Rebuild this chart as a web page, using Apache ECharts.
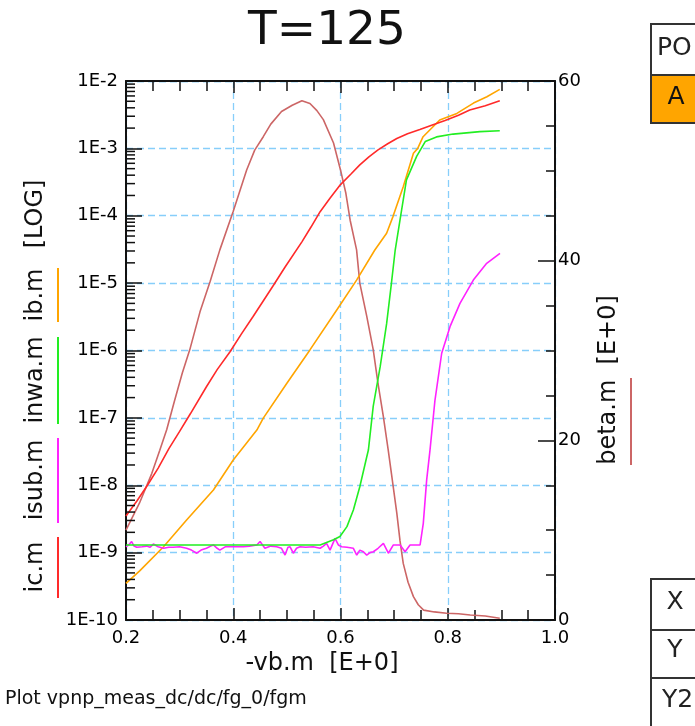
<!DOCTYPE html>
<html><head><meta charset="utf-8">
<script src="https://cdn.jsdelivr.net/npm/echarts@6/dist/echarts.min.js"></script>
<style>html,body{margin:0;padding:0;background:#fff}#c{width:695px;height:726px}</style>
</head><body><div id="c"></div>
<script>
// ---- data ----
const xTickLabels = ['0.2', '0.4', '0.6', '0.8', '1.0'];
const yTickLabels = ['1E-10', '1E-9', '1E-8', '1E-7', '1E-6', '1E-5', '1E-4', '1E-3', '1E-2'];
const y2TickLabels = ['0', '20', '40', '60'];

const icData = [[0.20,3.5e-9],[0.22,5.8e-9],[0.24,1.0e-8],[0.26,1.8e-8],[0.28,3.5e-8],[0.30,6.3e-8],[0.32,1.15e-7],[0.35,2.9e-7],[0.37,5.2e-7],[0.394,9.6e-7],[0.415,1.75e-6],[0.437,3.2e-6],[0.455,5.3e-6],[0.475,9.3e-6],[0.497,1.75e-5],[0.528,4.1e-5],[0.545,6.8e-5],[0.562,1.15e-4],[0.58,1.8e-4],[0.60,2.9e-4],[0.62,4.2e-4],[0.636,5.7e-4],[0.653,7.5e-4],[0.67,9.5e-4],[0.688,1.17e-3],[0.705,1.4e-3],[0.725,1.65e-3],[0.748,1.9e-3],[0.77,2.2e-3],[0.795,2.6e-3],[0.82,3.1e-3],[0.841,3.7e-3],[0.87,4.3e-3],[0.897,5.1e-3]];

const ibData = [[0.200,3.5e-10],[0.226,5.4e-10],[0.27,1.22e-9],[0.313,3.05e-9],[0.363,8.5e-9],[0.40,2.37e-8],[0.444,6.6e-8],[0.456,9.9e-8],[0.50,3.26e-7],[0.543,1.02e-6],[0.593,4.0e-6],[0.63,1.11e-5],[0.664,3.1e-5],[0.686,5.5e-5],[0.698,9.8e-5],[0.717,2.7e-4],[0.736,8.45e-4],[0.744,1.0e-3],[0.754,1.49e-3],[0.785,2.64e-3],[0.817,3.3e-3],[0.848,4.7e-3],[0.873,5.85e-3],[0.897,7.5e-3]];

const inwaData = [[0.20,1.3e-9],[0.30,1.3e-9],[0.40,1.3e-9],[0.50,1.3e-9],[0.562,1.3e-9],[0.587,1.55e-9],[0.599,1.74e-9],[0.612,2.43e-9],[0.624,4.3e-9],[0.636,9.5e-9],[0.649,2.65e-8],[0.652,3.33e-8],[0.661,1.48e-7],[0.674,5.75e-7],[0.686,2.5e-6],[0.695,1.0e-5],[0.702,3.1e-5],[0.711,8.7e-5],[0.723,3.4e-4],[0.742,7.6e-4],[0.758,1.26e-3],[0.779,1.48e-3],[0.81,1.63e-3],[0.86,1.77e-3],[0.897,1.83e-3]];

const isubData = [[0.200,1.22e-9],[0.205,1.3e-9],[0.2105,1.46e-9],[0.215,1.25e-9],[0.22,1.2e-9],[0.23,1.22e-9],[0.2385,1.25e-9],[0.245,1.2e-9],[0.251,1.34e-9],[0.26,1.22e-9],[0.27,1.16e-9],[0.28,1.2e-9],[0.288,1.2e-9],[0.30,1.22e-9],[0.313,1.16e-9],[0.322,1.09e-9],[0.332,9.8e-10],[0.34,1.09e-9],[0.35,1.16e-9],[0.358,1.25e-9],[0.363,1.3e-9],[0.37,1.16e-9],[0.375,1.09e-9],[0.385,1.22e-9],[0.394,1.22e-9],[0.405,1.22e-9],[0.419,1.22e-9],[0.43,1.25e-9],[0.444,1.3e-9],[0.45,1.46e-9],[0.459,1.16e-9],[0.47,1.25e-9],[0.481,1.22e-9],[0.49,1.16e-9],[0.4966,9.2e-10],[0.502,1.2e-9],[0.506,1.22e-9],[0.512,9.8e-10],[0.518,1.16e-9],[0.5245,1.22e-9],[0.535,1.2e-9],[0.549,1.22e-9],[0.562,1.16e-9],[0.568,1.25e-9],[0.574,1.37e-9],[0.5805,1.09e-9],[0.5898,1.63e-9],[0.596,1.3e-9],[0.6023,1.22e-9],[0.612,1.2e-9],[0.624,1.16e-9],[0.6303,9.2e-10],[0.636,1.09e-9],[0.6427,1.03e-9],[0.6489,9.2e-10],[0.655,1.0e-9],[0.6613,1.03e-9],[0.67,1.16e-9],[0.68,1.37e-9],[0.6893,9.8e-10],[0.6986,1.3e-9],[0.705,1.3e-9],[0.7111,1.3e-9],[0.7204,1.03e-9],[0.7297,1.3e-9],[0.74,1.3e-9],[0.7484,1.3e-9],[0.7544,2.72e-9],[0.7607,1.2e-8],[0.7669,3.33e-8],[0.7762,1.84e-7],[0.7887,9.1e-7],[0.8042,2.26e-6],[0.8228,5.0e-6],[0.8477,1.11e-5],[0.8726,1.97e-5],[0.8974,2.77e-5]];

const betaData = [[0.200,10.0],[0.225,13.0],[0.248,16.3],[0.263,18.9],[0.276,21.2],[0.29,24.3],[0.305,27.5],[0.319,30.1],[0.338,34.3],[0.357,37.7],[0.375,41.2],[0.40,45.5],[0.425,50.1],[0.44,52.3],[0.456,53.8],[0.47,55.2],[0.49,56.6],[0.51,57.3],[0.528,57.8],[0.543,57.5],[0.556,56.7],[0.568,55.7],[0.587,53.1],[0.60,50.1],[0.61,47.5],[0.618,44.5],[0.63,41.2],[0.636,37.5],[0.649,33.8],[0.661,30.1],[0.67,26.3],[0.68,22.6],[0.689,18.9],[0.695,16.3],[0.705,11.9],[0.711,8.8],[0.717,6.3],[0.726,4.2],[0.736,2.6],[0.745,1.7],[0.755,1.1],[0.775,0.9],[0.798,0.75],[0.82,0.7],[0.842,0.56],[0.87,0.45],[0.897,0.19]];

// ---- styling ----
const FONT = 'DejaVu Sans';
const C_IC = '#ff2a2a', C_IB = '#ffa500', C_INWA = '#22ee22', C_ISUB = '#ff22ff', C_BETA = '#cc6666';
const GRID_C = '#87cefa';

// log-axis minor tick positions (2..9 of each decade)
const minorLog = [];
for (let e = -10; e < -2; e++) for (let m = 2; m <= 9; m++) minorLog.push([0.2, m * Math.pow(10, e)]);

const chart = echarts.init(document.getElementById('c'), null, {renderer: 'canvas'});

const axisText = {fontFamily: FONT, fontSize: 18, color: '#000'};
const dashed = {show: true, lineStyle: {color: GRID_C, width: 1.3, type: [7, 4]}};

function lineSeries(name, data, color, yIdx) {
  return {name, type: 'line', data, xAxisIndex: 0, yAxisIndex: yIdx, showSymbol: false, symbol: 'none',
    lineStyle: {color, width: 1.6}, itemStyle: {color}, animation: false, z: 3};
}

const option = {
  animation: false,
  grid: {left: 126, right: 140, top: 81, bottom: 106, containLabel: false},
  xAxis: [
    {type: 'value', min: 0.2, max: 1.0, interval: 0.2, position: 'bottom',
      axisLine: {show: true, lineStyle: {color: '#111', width: 2}},
      axisTick: {show: true, inside: true, length: 12, lineStyle: {color: '#111', width: 1.5}},
      minorTick: {show: true, splitNumber: 4, length: 10, lineStyle: {color: '#111', width: 1.5}},
      axisLabel: Object.assign({margin: 9, formatter: v => xTickLabels[Math.round((v - 0.2) / 0.2)] || ''}, axisText),
      splitLine: dashed},
    {type: 'value', min: 0.2, max: 1.0, interval: 0.2, position: 'top',
      axisLine: {show: true, lineStyle: {color: '#111', width: 2}},
      axisTick: {show: true, inside: true, length: 12, lineStyle: {color: '#111', width: 1.5}},
      minorTick: {show: true, splitNumber: 4, length: 10, lineStyle: {color: '#111', width: 1.5}},
      axisLabel: {show: false}, splitLine: {show: false}}
  ],
  yAxis: [
    {type: 'log', logBase: 10, min: 1e-10, max: 1e-2, splitNumber: 8, position: 'left',
      axisLine: {show: true, lineStyle: {color: '#111', width: 2}},
      axisTick: {show: true, inside: true, length: 16, lineStyle: {color: '#111', width: 1.5}},
      axisLabel: Object.assign({margin: 8, formatter: v => yTickLabels[Math.round(Math.log10(v)) + 10] || ''}, axisText),
      splitLine: dashed},
    {type: 'value', min: 0, max: 60, interval: 20, position: 'right',
      axisLine: {show: true, lineStyle: {color: '#111', width: 2}},
      axisTick: {show: true, inside: true, length: 17, lineStyle: {color: '#111', width: 1.5}},
      minorTick: {show: true, splitNumber: 4, length: 9, lineStyle: {color: '#111', width: 1.5}},
      axisLabel: Object.assign({margin: 3, formatter: v => y2TickLabels[Math.round(v / 20)] || ''}, axisText),
      splitLine: {show: false}}
  ],
  graphic: [
    {type: 'text', style: {text: 'T=125', x: 327, y: 32, textAlign: 'center', textVerticalAlign: 'middle', font: '47px "DejaVu Sans"', fill: '#111'}},
    // left legend (rotated)
    {type: 'text', rotation: Math.PI / 2, x: 36, y: 567, style: {text: 'ic.m', textAlign: 'center', textVerticalAlign: 'middle', font: '24px "DejaVu Sans"', fill: '#111'}},
    {type: 'text', rotation: Math.PI / 2, x: 36, y: 480, style: {text: 'isub.m', textAlign: 'center', textVerticalAlign: 'middle', font: '24px "DejaVu Sans"', fill: '#111'}},
    {type: 'text', rotation: Math.PI / 2, x: 36, y: 380, style: {text: 'inwa.m', textAlign: 'center', textVerticalAlign: 'middle', font: '24px "DejaVu Sans"', fill: '#111'}},
    {type: 'text', rotation: Math.PI / 2, x: 36, y: 295, style: {text: 'ib.m', textAlign: 'center', textVerticalAlign: 'middle', font: '24px "DejaVu Sans"', fill: '#111'}},
    {type: 'text', rotation: Math.PI / 2, x: 36, y: 214, style: {text: '[LOG]', textAlign: 'center', textVerticalAlign: 'middle', font: '24px "DejaVu Sans"', fill: '#111'}},
    {type: 'line', shape: {x1: 58, y1: 537, x2: 58, y2: 598}, style: {stroke: C_IC, lineWidth: 2}},
    {type: 'line', shape: {x1: 58, y1: 438, x2: 58, y2: 523}, style: {stroke: C_ISUB, lineWidth: 2}},
    {type: 'line', shape: {x1: 58, y1: 337, x2: 58, y2: 424}, style: {stroke: C_INWA, lineWidth: 2}},
    {type: 'line', shape: {x1: 58, y1: 268, x2: 58, y2: 322}, style: {stroke: C_IB, lineWidth: 2}},
    // right legend
    {type: 'text', rotation: Math.PI / 2, x: 609, y: 380, style: {text: 'beta.m  [E+0]', textAlign: 'center', textVerticalAlign: 'middle', font: '24px "DejaVu Sans"', fill: '#111'}},
    {type: 'line', shape: {x1: 631, y1: 378, x2: 631, y2: 465}, style: {stroke: C_BETA, lineWidth: 2}},
    // x axis name & footer
    {type: 'text', style: {text: '-vb.m  [E+0]', x: 322, y: 664, textAlign: 'center', textVerticalAlign: 'middle', font: '24px "DejaVu Sans"', fill: '#111'}},
    {type: 'text', style: {text: 'Plot vpnp_meas_dc/dc/fg_0/fgm', x: 5, y: 699, textAlign: 'left', textVerticalAlign: 'middle', font: '19px "DejaVu Sans"', fill: '#111'}},
    // right-side table fragments
    {type: 'rect', shape: {x: 651, y: 24, width: 60, height: 51}, style: {fill: '#fff', stroke: '#333', lineWidth: 2}},
    {type: 'rect', shape: {x: 651, y: 75, width: 60, height: 48}, style: {fill: '#ffa500', stroke: '#333', lineWidth: 2}},
    {type: 'text', style: {text: 'PO', x: 657, y: 48, textAlign: 'left', textVerticalAlign: 'middle', font: '25px "DejaVu Sans"', fill: '#222'}},
    {type: 'text', style: {text: 'A', x: 676, y: 97, textAlign: 'center', textVerticalAlign: 'middle', font: '25px "DejaVu Sans"', fill: '#111'}},
    {type: 'rect', shape: {x: 651, y: 579, width: 60, height: 51}, style: {fill: '#fff', stroke: '#333', lineWidth: 2}},
    {type: 'rect', shape: {x: 651, y: 630, width: 60, height: 48}, style: {fill: '#fff', stroke: '#333', lineWidth: 2}},
    {type: 'rect', shape: {x: 651, y: 678, width: 60, height: 60}, style: {fill: '#fff', stroke: '#333', lineWidth: 2}},
    {type: 'text', style: {text: 'X', x: 675, y: 602, textAlign: 'center', textVerticalAlign: 'middle', font: '25px "DejaVu Sans"', fill: '#222'}},
    {type: 'text', style: {text: 'Y', x: 675, y: 650, textAlign: 'center', textVerticalAlign: 'middle', font: '25px "DejaVu Sans"', fill: '#222'}},
    {type: 'text', style: {text: 'Y2', x: 662, y: 700, textAlign: 'left', textVerticalAlign: 'middle', font: '25px "DejaVu Sans"', fill: '#222'}}
  ],
  series: [
    lineSeries('beta.m', betaData, C_BETA, 1),
    lineSeries('ib.m', ibData, C_IB, 0),
    lineSeries('isub.m', isubData, C_ISUB, 0),
    lineSeries('inwa.m', inwaData, C_INWA, 0),
    lineSeries('ic.m', icData, C_IC, 0),
    {name: 'logMinor', type: 'custom', xAxisIndex: 0, yAxisIndex: 0, data: minorLog, silent: true, clip: false, z: 4,
      encode: {x: 0, y: 1},
      renderItem: function (params, api) {
        const p = api.coord([api.value(0), api.value(1)]);
        return {type: 'line', shape: {x1: p[0], y1: p[1], x2: p[0] + 9, y2: p[1]}, style: {stroke: '#111', lineWidth: 1.5}};
      }}
  ]
};
chart.setOption(option);
</script>
</body></html>
